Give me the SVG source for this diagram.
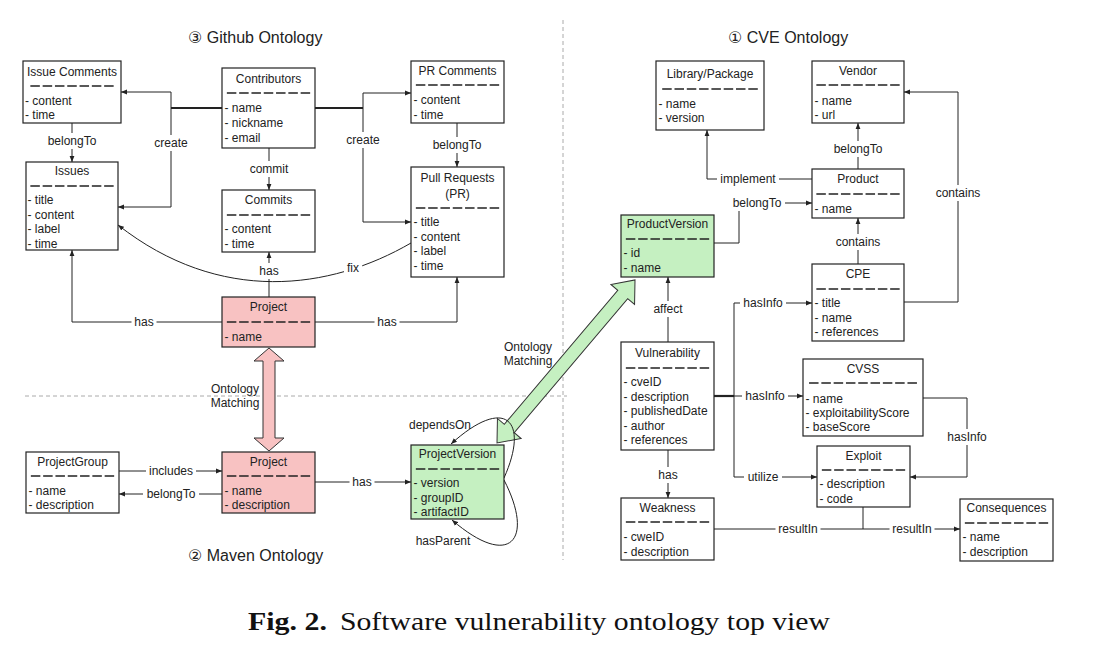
<svg xmlns="http://www.w3.org/2000/svg" width="1100" height="662" viewBox="0 0 1100 662">
<style>
.box{fill:#fff;stroke:#222;stroke-width:1.2}
.pink{fill:#f8c2c2}
.green{fill:#c5f0c1}
.t{font-family:"Liberation Sans",Arial,"DejaVu Sans",sans-serif;font-size:12px;fill:#222}
.c{text-anchor:middle}
.h{font-family:"Liberation Sans",Arial,"DejaVu Sans",sans-serif;font-size:16px;fill:#222}
.sep{stroke:#222;stroke-width:1.3;stroke-dasharray:9.5 2.8}
.ln{fill:none;stroke:#222;stroke-width:1}
.thick{fill:none;stroke:#222;stroke-width:2.2}
.bg{fill:#fff}
.div{fill:none;stroke:#aaa;stroke-width:1;stroke-dasharray:4 3}
.big{stroke:#333;stroke-width:1}
.cap{font-family:"Liberation Serif","Times New Roman",serif;font-size:25px;fill:#111}
</style>
<defs>
<marker id="a" viewBox="0 0 6 6" refX="6" refY="3" markerWidth="6" markerHeight="6" markerUnits="userSpaceOnUse" orient="auto"><path d="M0,0.6 L6,3 L0,5.4z" fill="#222"/></marker>
</defs>
<rect width="1100" height="662" fill="#fff"/>

<!-- dividers -->
<g id="dividers">
<path class="div" d="M563,20 V560"/>
<path class="div" d="M25,396 H567"/>
</g>

<!-- section titles -->
<g id="titles">
<text class="h" x="188" y="43">③ Github Ontology</text>
<text class="h" x="188" y="561">② Maven Ontology</text>
<text class="h" x="728" y="43">① CVE Ontology</text>
</g>

<!-- ontology matching arrows -->
<g id="match-github-maven">
<polygon class="pink big" points="269,348 284,361 275,361 275,438 284,438 269,451 254,438 263,438 263,361 254,361"/>
<text class="t c" x="235" y="393">Ontology</text>
<text class="t c" x="235" y="407">Matching</text>
</g>
<g id="match-maven-cve">
<polygon class="green big" transform="translate(497,443) rotate(-49.75)" points="0,0 19,-15.5 19,-6.5 194.6,-6.5 194.6,-15.5 213.6,0 194.6,15.5 194.6,6.5 19,6.5 19,15.5"/>
<text class="t c" x="528" y="351">Ontology</text>
<text class="t c" x="528" y="365">Matching</text>
</g>

<!-- connectors -->
<g id="connectors">
<path class="thick" d="M222,108 H171"/>
<path class="ln" d="M171,108 V92 H121" marker-end="url(#a)"/>
<path class="ln" d="M171,108 V207 H118" marker-end="url(#a)"/>
<path class="thick" d="M315,108 H363"/>
<path class="ln" d="M363,108 V93 H411" marker-end="url(#a)"/>
<path class="ln" d="M363,108 V222 H411" marker-end="url(#a)"/>
<path class="ln" d="M72,123 V162" marker-end="url(#a)"/>
<path class="ln" d="M269,148 V190" marker-end="url(#a)"/>
<path class="ln" d="M457,123 V167" marker-end="url(#a)"/>
<path class="ln" d="M269,297 V252" marker-end="url(#a)"/>
<path class="ln" d="M222,322 H72 V250" marker-end="url(#a)"/>
<path class="ln" d="M315,322 H457 V277" marker-end="url(#a)"/>
<path class="ln" d="M411,243 C330,290 220,305 118,225" marker-end="url(#a)"/>
<path class="ln" d="M119,471 H222" marker-end="url(#a)"/>
<path class="ln" d="M222,494 H119" marker-end="url(#a)"/>
<path class="ln" d="M315,482 H411" marker-end="url(#a)"/>
<path class="ln" d="M504,478 C530,420 505,395 451,444" marker-end="url(#a)"/>
<path class="ln" d="M504,480 C535,540 510,570 452,520" marker-end="url(#a)"/>

<path class="ln" d="M858,169 V123" marker-end="url(#a)"/>
<path class="ln" d="M812,179 H707 V130" marker-end="url(#a)"/>
<path class="ln" d="M714,243 H739 V203 H812" marker-end="url(#a)"/>
<path class="ln" d="M858,264 V218" marker-end="url(#a)"/>
<path class="ln" d="M904,302 H958 V92 H904" marker-end="url(#a)"/>
<path class="ln" d="M668,342 V277" marker-end="url(#a)"/>
<path class="thick" d="M714,396 H734"/>
<path class="ln" d="M734,396 V303 H812" marker-end="url(#a)"/>
<path class="ln" d="M734,396 H803" marker-end="url(#a)"/>
<path class="ln" d="M734,396 V477 H817" marker-end="url(#a)"/>
<path class="ln" d="M923,398 H967 V477 H910" marker-end="url(#a)"/>
<path class="ln" d="M668,450 V498" marker-end="url(#a)"/>
<path class="ln" d="M714,529 H960" marker-end="url(#a)"/>
<path class="ln" d="M863,507 V529"/>

<!-- labels -->
<rect class="bg" x="151.5" y="135" width="39" height="16"/><text class="t c" x="171" y="147">create</text>
<rect class="bg" x="343.5" y="132" width="39" height="16"/><text class="t c" x="363" y="144">create</text>
<rect class="bg" x="44" y="133" width="56" height="16"/><text class="t c" x="72" y="145">belongTo</text>
<rect class="bg" x="246.5" y="161" width="45" height="16"/><text class="t c" x="269" y="173">commit</text>
<rect class="bg" x="429" y="137" width="56" height="16"/><text class="t c" x="457" y="149">belongTo</text>
<rect class="bg" x="256.5" y="263" width="25" height="16"/><text class="t c" x="269" y="275">has</text>
<rect class="bg" x="131.5" y="314" width="25" height="16"/><text class="t c" x="144" y="326">has</text>
<rect class="bg" x="374.5" y="314" width="25" height="16"/><text class="t c" x="387" y="326">has</text>
<rect class="bg" x="344" y="260" width="18" height="16"/><text class="t c" x="353" y="272">fix</text>
<rect class="bg" x="146" y="463" width="50" height="16"/><text class="t c" x="171" y="475">includes</text>
<rect class="bg" x="143" y="486" width="56" height="16"/><text class="t c" x="171" y="498">belongTo</text>
<rect class="bg" x="349.5" y="474" width="25" height="16"/><text class="t c" x="362" y="486">has</text>
<text class="t c" x="440" y="429">dependsOn</text>
<text class="t c" x="443" y="545">hasParent</text>

<rect class="bg" x="830" y="141" width="56" height="16"/><text class="t c" x="858" y="153">belongTo</text>
<rect class="bg" x="717" y="171" width="62" height="16"/><text class="t c" x="748" y="183">implement</text>
<rect class="bg" x="729" y="195" width="56" height="16"/><text class="t c" x="757" y="207">belongTo</text>
<rect class="bg" x="832.5" y="234" width="51" height="16"/><text class="t c" x="858" y="246">contains</text>
<rect class="bg" x="932.5" y="185" width="51" height="16"/><text class="t c" x="958" y="197">contains</text>
<rect class="bg" x="650.5" y="301" width="35" height="16"/><text class="t c" x="668" y="313">affect</text>
<rect class="bg" x="740" y="295" width="46" height="16"/><text class="t c" x="763" y="307">hasInfo</text>
<rect class="bg" x="742" y="388" width="46" height="16"/><text class="t c" x="765" y="400">hasInfo</text>
<rect class="bg" x="744" y="469" width="38" height="16"/><text class="t c" x="763" y="481">utilize</text>
<rect class="bg" x="944" y="429" width="46" height="16"/><text class="t c" x="967" y="441">hasInfo</text>
<rect class="bg" x="655.5" y="467" width="25" height="16"/><text class="t c" x="668" y="479">has</text>
<rect class="bg" x="775.5" y="521" width="45" height="16"/><text class="t c" x="798" y="533">resultIn</text>
<rect class="bg" x="889.5" y="521" width="45" height="16"/><text class="t c" x="912" y="533">resultIn</text>
</g>

<!-- Github nodes -->
<g id="issue-comments">
<rect class="box" x="23" y="61" width="98" height="62"/>
<text class="t c" x="72" y="76">Issue Comments</text>
<line class="sep" x1="30.35" y1="86" x2="113.65" y2="86"/>
<text class="t" x="25" y="105">- content</text>
<text class="t" x="25" y="119">- time</text>
</g>
<g id="issues">
<rect class="box" x="26" y="162" width="92" height="88"/>
<text class="t c" x="72" y="175">Issues</text>
<line class="sep" x1="30.35" y1="186" x2="113.65" y2="186"/>
<text class="t" x="27.5" y="204">- title</text>
<text class="t" x="27.5" y="219">- content</text>
<text class="t" x="27.5" y="233">- label</text>
<text class="t" x="27.5" y="248">- time</text>
</g>
<g id="contributors">
<rect class="box" x="222" y="68" width="93" height="80"/>
<text class="t c" x="268.5" y="83">Contributors</text>
<line class="sep" x1="226.85" y1="93" x2="310.15" y2="93"/>
<text class="t" x="224.5" y="112">- name</text>
<text class="t" x="224.5" y="127">- nickname</text>
<text class="t" x="224.5" y="142">- email</text>
</g>
<g id="commits">
<rect class="box" x="222" y="190" width="93" height="62"/>
<text class="t c" x="268.5" y="204">Commits</text>
<line class="sep" x1="226.85" y1="215" x2="310.15" y2="215"/>
<text class="t" x="224.5" y="233">- content</text>
<text class="t" x="224.5" y="248">- time</text>
</g>
<g id="pr-comments">
<rect class="box" x="411" y="61" width="93" height="62"/>
<text class="t c" x="457.5" y="75">PR Comments</text>
<line class="sep" x1="415.85" y1="85" x2="499.15" y2="85"/>
<text class="t" x="413.5" y="104">- content</text>
<text class="t" x="413.5" y="119">- time</text>
</g>
<g id="pull-requests">
<rect class="box" x="411" y="167" width="93" height="110"/>
<text class="t c" x="457.5" y="182">Pull Requests</text>
<text class="t c" x="457.5" y="198">(PR)</text>
<line class="sep" x1="415.85" y1="208" x2="499.15" y2="208"/>
<text class="t" x="413.5" y="226">- title</text>
<text class="t" x="413.5" y="241">- content</text>
<text class="t" x="413.5" y="255">- label</text>
<text class="t" x="413.5" y="270">- time</text>
</g>
<g id="project-github">
<rect class="box pink" x="222" y="297" width="93" height="50"/>
<text class="t c" x="268.5" y="311">Project</text>
<line class="sep" x1="226.85" y1="322" x2="310.15" y2="322"/>
<text class="t" x="224.5" y="341">- name</text>
</g>

<!-- Maven nodes -->
<g id="project-group">
<rect class="box" x="26" y="452" width="93" height="61"/>
<text class="t c" x="72.5" y="466">ProjectGroup</text>
<line class="sep" x1="30.85" y1="476" x2="114.15" y2="476"/>
<text class="t" x="28.5" y="495">- name</text>
<text class="t" x="28.5" y="509">- description</text>
</g>
<g id="project-maven">
<rect class="box pink" x="222" y="452" width="93" height="61"/>
<text class="t c" x="268.5" y="466">Project</text>
<line class="sep" x1="226.85" y1="476" x2="310.15" y2="476"/>
<text class="t" x="224.5" y="495">- name</text>
<text class="t" x="224.5" y="509">- description</text>
</g>
<g id="project-version">
<rect class="box green" x="411" y="445" width="93" height="74"/>
<text class="t c" x="457.5" y="458">ProjectVersion</text>
<line class="sep" x1="415.85" y1="469" x2="499.15" y2="469"/>
<text class="t" x="413.5" y="487">- version</text>
<text class="t" x="413.5" y="502">- groupID</text>
<text class="t" x="413.5" y="516">- artifactID</text>
</g>

<!-- CVE nodes -->
<g id="library-package">
<rect class="box" x="656" y="61" width="108" height="69"/>
<text class="t c" x="710" y="78">Library/Package</text>
<line class="sep" x1="662.2" y1="89" x2="757.8" y2="89"/>
<text class="t" x="658.5" y="108">- name</text>
<text class="t" x="658.5" y="122">- version</text>
</g>
<g id="vendor">
<rect class="box" x="812" y="61" width="92" height="62"/>
<text class="t c" x="858" y="75">Vendor</text>
<line class="sep" x1="816.35" y1="85" x2="899.65" y2="85"/>
<text class="t" x="814.5" y="105">- name</text>
<text class="t" x="814.5" y="119">- url</text>
</g>
<g id="product">
<rect class="box" x="812" y="169" width="92" height="49"/>
<text class="t c" x="858" y="183">Product</text>
<line class="sep" x1="816.35" y1="194" x2="899.65" y2="194"/>
<text class="t" x="814.5" y="213">- name</text>
</g>
<g id="cpe">
<rect class="box" x="812" y="264" width="92" height="77"/>
<text class="t c" x="858" y="278">CPE</text>
<line class="sep" x1="816.35" y1="289" x2="899.65" y2="289"/>
<text class="t" x="814.5" y="307">- title</text>
<text class="t" x="814.5" y="322">- name</text>
<text class="t" x="814.5" y="336">- references</text>
</g>
<g id="product-version">
<rect class="box green" x="621" y="215" width="93" height="62"/>
<text class="t c" x="667.5" y="228">ProductVersion</text>
<line class="sep" x1="625.85" y1="239" x2="709.15" y2="239"/>
<text class="t" x="623.5" y="257">- id</text>
<text class="t" x="623.5" y="272">- name</text>
</g>
<g id="vulnerability">
<rect class="box" x="621" y="342" width="93" height="108"/>
<text class="t c" x="667.5" y="357">Vulnerability</text>
<line class="sep" x1="625.85" y1="368" x2="709.15" y2="368"/>
<text class="t" x="623.5" y="386">- cveID</text>
<text class="t" x="623.5" y="401">- description</text>
<text class="t" x="623.5" y="415">- publishedDate</text>
<text class="t" x="623.5" y="430">- author</text>
<text class="t" x="623.5" y="444">- references</text>
</g>
<g id="cvss">
<rect class="box" x="803" y="359" width="120" height="77"/>
<text class="t c" x="863" y="373">CVSS</text>
<line class="sep" x1="809.05" y1="383" x2="916.95" y2="383"/>
<text class="t" x="805.5" y="403">- name</text>
<text class="t" x="805.5" y="417">- exploitabilityScore</text>
<text class="t" x="805.5" y="431">- baseScore</text>
</g>
<g id="exploit">
<rect class="box" x="817" y="446" width="93" height="61"/>
<text class="t c" x="863.5" y="460">Exploit</text>
<line class="sep" x1="821.85" y1="470" x2="905.15" y2="470"/>
<text class="t" x="819.5" y="488">- description</text>
<text class="t" x="819.5" y="503">- code</text>
</g>
<g id="weakness">
<rect class="box" x="621" y="498" width="93" height="62"/>
<text class="t c" x="667.5" y="512">Weakness</text>
<line class="sep" x1="625.85" y1="522" x2="709.15" y2="522"/>
<text class="t" x="623.5" y="541">- cweID</text>
<text class="t" x="623.5" y="556">- description</text>
</g>
<g id="consequences">
<rect class="box" x="960" y="499" width="93" height="62"/>
<text class="t c" x="1006.5" y="512">Consequences</text>
<line class="sep" x1="964.85" y1="523" x2="1048.15" y2="523"/>
<text class="t" x="962.5" y="541">- name</text>
<text class="t" x="962.5" y="556">- description</text>
</g>

<!-- caption -->
<g id="caption">
<text class="cap" x="248" y="630" font-weight="bold" textLength="79" lengthAdjust="spacingAndGlyphs">Fig. 2.</text>
<text class="cap" x="340" y="630" textLength="490" lengthAdjust="spacingAndGlyphs">Software vulnerability ontology top view</text>
</g>
</svg>
